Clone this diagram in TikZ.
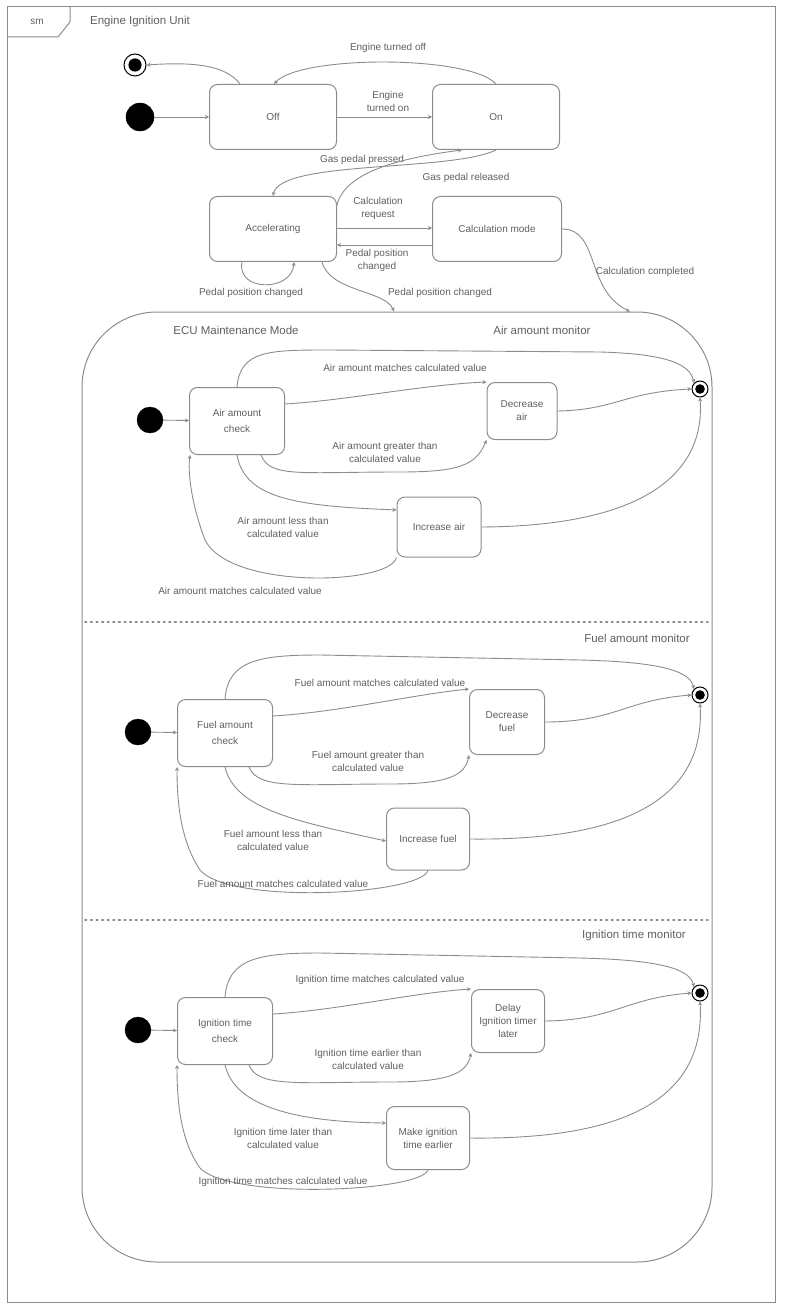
\documentclass[tikz,border=0pt]{standalone}
\usepackage{fontspec}
\setmainfont{Liberation Sans}
\usetikzlibrary{arrows.meta}
\definecolor{linegray}{RGB}{140,140,140}
\definecolor{textgray}{RGB}{95,95,95}
\tikzset{
  statebox/.style={draw=linegray, line width=1pt, rounded corners=8pt, text=textgray, align=center, font=\fontsize{10}{13}\selectfont, inner sep=0pt},
  trans/.style={draw=linegray, line width=0.9pt, -{Stealth[length=4pt, width=4pt]}},
  tlabel/.style={text=textgray, font=\fontsize{10}{13}\selectfont, align=center, inner sep=1pt},
  namelabel/.style={text=textgray, font=\fontsize{11.5}{14}\selectfont, inner sep=1pt},
  startdot/.style={circle, fill=black, draw=black, inner sep=0pt, minimum size=26pt},
  enddot/.style={circle, draw=black, line width=1pt, inner sep=0pt, minimum size=#1, path picture={\fill[black] (path picture bounding box.center) circle (0.3*#1);}},
}
\begin{document}
\begin{tikzpicture}[x=1pt, y=-1pt]
        \useasboundingbox (0,0) rectangle (804,1305);
        % frame
        \draw[linegray, line width=1pt] (7,7) rectangle (775,1302);
        \draw[linegray, line width=1pt] (7,37) -- (58,37) -- (70,22) -- (70,7);
        \node[tlabel] (sm) at (37,22) {sm};
        \node[namelabel] (Title) at (140,22) {Engine Ignition Unit};

        % top level
        \node[enddot=22pt] (Final-0) at (135,65) {};
        \node[startdot, minimum size=28pt] (Start-0) at (140,117) {};
        \node[statebox, minimum width=127pt, minimum height=65pt] (Off) at (273,117) {Off};
        \node[statebox, minimum width=127pt, minimum height=65pt] (On) at (496,117) {On};
        \node[statebox, minimum width=127pt, minimum height=65pt] (Accelerating) at (273,229) {Accelerating};
        \node[statebox, minimum width=129pt, minimum height=65pt] (Calculation) at (497,229) {Calculation mode};
        \node[statebox, rounded corners=75pt, minimum width=630pt, minimum height=950pt] (Maintenance) at (397,787) {};

        \draw[trans] (Start-0) -- (Off);
        \draw[trans] (Off) -- (On);
        \node[tlabel] (Turned-On) at (388,101) {Engine\\turned on};
        \draw[trans] (On.north) .. controls (470,55) and (300,55) .. ([xshift=1pt]Off.north);
        \node[tlabel] (Turned-Off) at (388,48) {Engine turned off};
        \draw[trans] ([xshift=-33pt]Off.north) .. controls (225,64) and (190,62) .. (Final-0.east);
        \draw[trans] (On.south) .. controls (450,172) and (280,160) .. (Accelerating.north);
        \node[tlabel] (Gas-Pressed) at (362,160) {Gas pedal pressed};
        \draw[trans] ([yshift=24pt]Accelerating.east) .. controls (345,172) and (400,158) .. ([xshift=-34pt]On.south);
        \node[tlabel] (Gas-Released) at (466,178) {Gas pedal released};
        \draw[trans] ([yshift=1pt]Accelerating.east) -- ([yshift=1pt]Calculation.west);
        \node[tlabel] (Start-Calc) at (378,208) {Calculation\\request};
        \draw[trans] ([yshift=-16pt]Calculation.west) -- ([yshift=-16pt]Accelerating.east);
        \node[tlabel] (Pedal-Changed-1) at (377,260) {Pedal position\\changed};
        \draw[trans] ([xshift=-31pt]Accelerating.south) .. controls (236,292) and (292,292) .. ([xshift=21pt]Accelerating.south);
        \node[tlabel] (Pedal-Changed-2) at (251,293) {Pedal position changed};
        \draw[trans] ([xshift=49pt]Accelerating.south) .. controls (330,292) and (385,290) .. ([xshift=-3pt]Maintenance.north);
        \node[tlabel] (Pedal-Changed-3) at (440,293) {Pedal position changed};
        \draw[trans] (Calculation.east) .. controls (600,229) and (585,290) .. ([xshift=233pt]Maintenance.north);
        \node[tlabel] (Calc-Done) at (645,272) {Calculation completed};

        \node[namelabel] (Maintenance-Name) at (236,330) {ECU Maintenance Mode};
        \draw[linegray, line width=1.6pt, dash pattern=on 1.6pt off 4pt, line cap=round] (85,622) -- (708,622);
        \draw[linegray, line width=1.6pt, dash pattern=on 1.6pt off 4pt, line cap=round] (85,920) -- (708,920);

        % air amount monitor
        \node[namelabel] (Air-Monitor) at (542,330) {Air amount monitor};
        \node[startdot] (Start-1) at (150,420) {};
        \node[statebox, minimum width=95pt, minimum height=67pt] (Air-Check) at (237,421) {Air amount\\[3pt]check};
        \node[statebox, minimum width=70pt, minimum height=57pt] (Air-Decrease) at (522,411) {Decrease\\air};
        \node[statebox, minimum width=84pt, minimum height=60pt] (Air-Increase) at (439,527) {Increase air};
        \node[enddot=16pt] (Final-1) at (700,389) {};

        \draw[trans] (Start-1) -- (Air-Check);
        \draw[trans] (Air-Check.north) .. controls (240,350) and (270,350) .. (330,350) -- (600,352) .. controls (670,354) and (690,365) .. (Final-1.north west);
        \node[tlabel] (Air-Match-1) at (405,368) {Air amount matches calculated value};
        \draw[trans] ([yshift=17pt]Air-Check.east) .. controls (350,400) and (420,385) .. (Air-Decrease.north west);
        \draw[trans] ([xshift=24pt]Air-Check.south) .. controls (270,478) and (300,472) .. (400,472) .. controls (460,472) and (476,465) .. (Air-Decrease.south west);
        \node[tlabel] (Air-Greater) at (385,452) {Air amount greater than\\calculated value};
        \draw[trans] (Air-Decrease.east) .. controls (615,410) and (625,392) .. (Final-1.west);
        \draw[trans] (Air-Check.south) .. controls (245,500) and (300,506) .. ([yshift=17pt]Air-Increase.west);
        \node[tlabel] (Air-Less) at (283,527) {Air amount less than\\calculated value};
        \draw[trans] (Air-Increase.east) .. controls (650,526) and (705,470) .. (Final-1.south);
        \draw[trans] (Air-Increase.south west) .. controls (390,585) and (230,590) .. (205,540) .. controls (190,500) and (188,470) .. ([xshift=-47pt]Air-Check.south);
        \node[tlabel] (Air-Match-2) at (240,591) {Air amount matches calculated value};

        % fuel amount monitor
        \node[namelabel] (Fuel-Monitor) at (637,638) {Fuel amount monitor};
        \node[startdot] (Start-2) at (138,732) {};
        \node[statebox, minimum width=95pt, minimum height=67pt] (Fuel-Check) at (225,733) {Fuel amount\\[3pt]check};
        \node[statebox, minimum width=75pt, minimum height=65pt] (Fuel-Decrease) at (507,722) {Decrease\\fuel};
        \node[statebox, minimum width=83pt, minimum height=62pt] (Fuel-Increase) at (428,839) {Increase fuel};
        \node[enddot=16pt] (Final-2) at (700,695) {};

        \draw[trans] (Start-2) -- (Fuel-Check);
        \draw[trans] (Fuel-Check.north) .. controls (228,660) and (260,655) .. (320,655) -- (580,660) .. controls (665,662) and (690,672) .. (Final-2.north west);
        \node[tlabel] (Fuel-Match-1) at (380,683) {Fuel amount matches calculated value};
        \draw[trans] ([yshift=17pt]Fuel-Check.east) .. controls (340,712) and (410,695) .. (Fuel-Decrease.north west);
        \draw[trans] ([xshift=24pt]Fuel-Check.south) .. controls (258,790) and (300,784) .. (390,784) .. controls (450,784) and (465,775) .. (Fuel-Decrease.south west);
        \node[tlabel] (Fuel-Greater) at (368,761) {Fuel amount greater than\\calculated value};
        \draw[trans] (Fuel-Decrease.east) .. controls (615,722) and (625,700) .. (Final-2.west);
        \draw[trans] (Fuel-Check.south) .. controls (235,810) and (300,822) .. ([yshift=-2pt]Fuel-Increase.west);
        \node[tlabel] (Fuel-Less) at (273,840) {Fuel amount less than\\calculated value};
        \draw[trans] (Fuel-Increase.east) .. controls (640,841) and (705,790) .. (Final-2.south);
        \draw[trans] (Fuel-Increase.south) .. controls (420,895) and (230,905) .. (200,870) .. controls (180,840) and (177,800) .. ([xshift=-48pt]Fuel-Check.south);
        \node[tlabel] (Fuel-Match-2) at (283,884) {Fuel amount matches calculated value};

        % ignition time monitor
        \node[namelabel] (Time-Monitor) at (634,936) {Ignition time monitor};
        \node[startdot] (Start-3) at (138,1030) {};
        \node[statebox, minimum width=95pt, minimum height=67pt] (Time-Check) at (225,1031) {Ignition time\\[3pt]check};
        \node[statebox, minimum width=73pt, minimum height=63pt] (Time-Delay) at (508,1021) {Delay\\Ignition timer\\later};
        \node[statebox, minimum width=83pt, minimum height=63pt] (Time-Advance) at (428,1138) {Make ignition\\time earlier};
        \node[enddot=16pt] (Final-3) at (700,993) {};

        \draw[trans] (Start-3) -- (Time-Check);
        \draw[trans] (Time-Check.north) .. controls (228,958) and (260,953) .. (320,953) -- (580,958) .. controls (665,960) and (690,970) .. (Final-3.north west);
        \node[tlabel] (Time-Match-1) at (380,980) {Ignition time matches calculated value};
        \draw[trans] ([yshift=17pt]Time-Check.east) .. controls (340,1010) and (410,993) .. (Time-Delay.north west);
        \draw[trans] ([xshift=24pt]Time-Check.south) .. controls (258,1088) and (300,1082) .. (390,1082) .. controls (450,1082) and (467,1073) .. (Time-Delay.south west);
        \node[tlabel] (Time-Earlier) at (368,1059) {Ignition time earlier than\\calculated value};
        \draw[trans] (Time-Delay.east) .. controls (615,1020) and (625,998) .. (Final-3.west);
        \draw[trans] (Time-Check.south) .. controls (235,1108) and (300,1122) .. ([yshift=15pt]Time-Advance.west);
        \node[tlabel] (Time-Later) at (283,1138) {Ignition time later than\\calculated value};
        \draw[trans] (Time-Advance.east) .. controls (640,1140) and (705,1090) .. (Final-3.south);
        \draw[trans] (Time-Advance.south) .. controls (420,1192) and (230,1200) .. (200,1168) .. controls (180,1140) and (177,1100) .. ([xshift=-48pt]Time-Check.south);
        \node[tlabel] (Time-Match-2) at (283,1182) {Ignition time matches calculated value};
\end{tikzpicture}
\end{document}
